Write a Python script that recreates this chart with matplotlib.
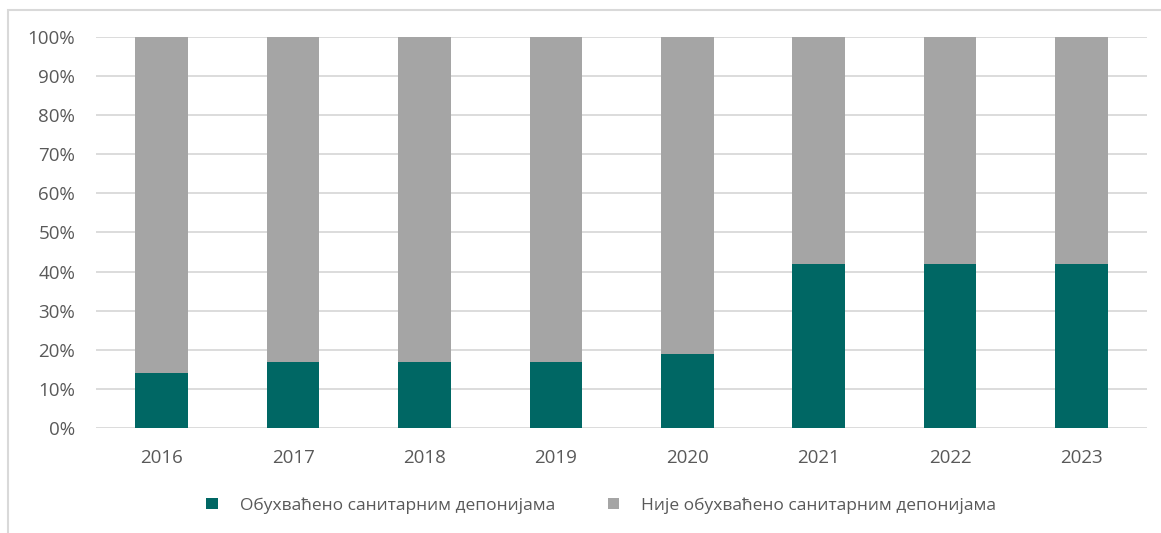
import numpy as np
import matplotlib.pyplot as plt
from matplotlib.patches import Rectangle
from matplotlib.ticker import PercentFormatter

years = ['2016', '2017', '2018', '2019', '2020', '2021', '2022', '2023']
covered = [14, 17, 17, 17, 19, 42, 42, 42]
not_covered = [100 - v for v in covered]
labels = ['Обухваћено санитарним депонијама', 'Није обухваћено санитарним депонијама']

plt.rcParams['font.family'] = ['Open Sans', 'DejaVu Sans']

fig = plt.figure(figsize=(11.61, 5.33), dpi=100)
ax = fig.add_axes([0.0827, 0.197, 0.9053, 0.7336])

# Outer chart border
fig.patches.append(Rectangle((8 / 1161, -0.01), 1.0, 1 - 10 / 533 + 0.01,
                             transform=fig.transFigure, fill=False,
                             edgecolor='#D9D9D9', linewidth=1.5))

x = np.arange(len(years))
ax.bar(x, covered, width=0.4, color='#006764', label=labels[0], zorder=3)
ax.bar(x, not_covered, width=0.4, bottom=covered, color='#A5A5A5',
       label=labels[1], zorder=3)

ax.set_xlim(-0.5, len(years) - 0.5)
ax.set_ylim(0, 100)
ax.set_yticks(np.arange(0, 101, 10))
ax.yaxis.set_major_formatter(PercentFormatter(decimals=0))
ax.set_xticks(x)
ax.set_xticklabels(years)
ax.grid(axis='y', color='#D9D9D9', linewidth=1.3, zorder=0)
for s in ax.spines.values():
    s.set_visible(False)
ax.tick_params(length=0, labelsize=13.5, labelcolor='#595959')
ax.tick_params(axis='x', pad=15)
ax.tick_params(axis='y', pad=15)

fig.legend(loc='center', bbox_to_anchor=(0.518, 0.052), ncol=2, frameon=False,
           fontsize=12.5, labelcolor='#595959', handlelength=0.65, handleheight=0.65,
           columnspacing=3.0, handletextpad=1.3)

plt.savefig('out.png')
